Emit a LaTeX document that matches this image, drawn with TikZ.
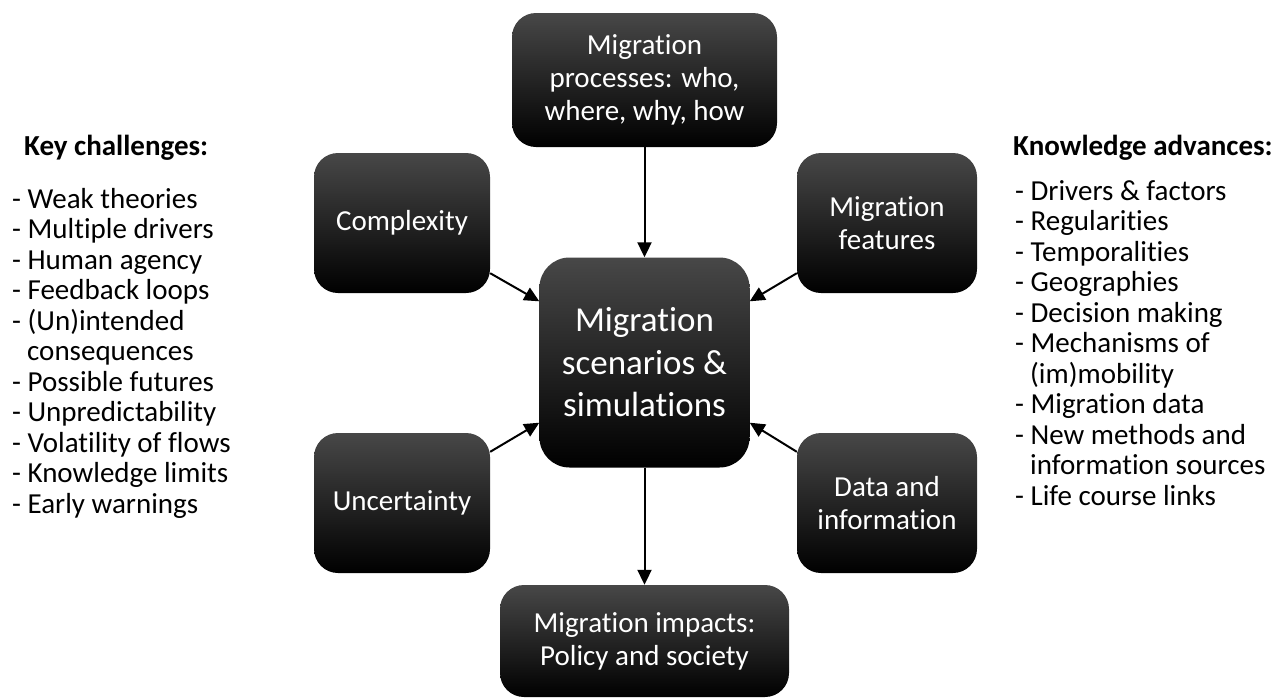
\documentclass[tikz,border=0pt]{standalone}
\usepackage{fontspec}
\setmainfont{Carlito}[RawFeature={-liga;-clig;-calt;-dlig}]
\usetikzlibrary{arrows.meta,calc}
\begin{document}
\begin{tikzpicture}[x=1pt,y=-1pt,
  box/.style={rectangle, rounded corners=24pt, top color=black!72, middle color=black, bottom color=black,
    draw=none, text=white, align=center, font=\fontsize{29}{33}\selectfont, inner sep=0pt},
  bigbox/.style={box, rounded corners=30pt, font=\fontsize{35}{42.5}\selectfont},
  listtext/.style={font=\fontsize{29}{30.5}\selectfont, anchor=base west, inner sep=0pt},
  headtext/.style={listtext, font=\fontsize{29}{30.5}\selectfont\bfseries},
  arr/.style={line width=2pt, -{Triangle[length=15pt,width=14pt]}}
]
\useasboundingbox (0,0) rectangle (1288,697);

% boxes
\node[box, minimum width=265pt, minimum height=134pt] (topb) at (644.5,80) {Migration\\processes: who,\\where, why, how};
\node[bigbox, minimum width=210pt, minimum height=210pt] (ctr) at (644.5,362.5) {Migration\\scenarios \&\\simulations};
\node[box, minimum width=176pt, minimum height=140pt] (cx) at (402,223) {Complexity};
\node[box, minimum width=180pt, minimum height=140pt] (feat) at (887,223) {Migration\\features};
\node[box, minimum width=176pt, minimum height=140pt] (unc) at (402,503) {Uncertainty};
\node[box, minimum width=180pt, minimum height=140pt] (data) at (887,503) {Data and\\information};
\node[box, minimum width=289pt, minimum height=112pt] (botb) at (644.5,641) {Migration impacts:\\Policy and society};

% arrows
\draw[arr] (topb.south) -- (ctr.north);
\draw[arr] (ctr.south) -- (botb.north);
\draw[arr] ($(cx.south east)+(0,-20)$) -- ($(ctr.north west)+(0,44)$);
\draw[arr] ($(unc.north east)+(0,19)$) -- ($(ctr.south west)+(0,-45)$);
\draw[arr] ($(feat.south west)+(0,-20)$) -- ($(ctr.north east)+(0,44)$);
\draw[arr] ($(data.north west)+(0,19)$) -- ($(ctr.south east)+(0,-45)$);

% left column
\node[headtext] (lh) at (24,155) {Key challenges:};
\foreach \t [count=\i] in {- Weak theories, - Multiple drivers, - Human agency, - Feedback loops,
  - (Un)intended, \hspace{15pt}consequences, - Possible futures, - Unpredictability,
  - Volatility of flows, - Knowledge limits, - Early warnings}
  \node[listtext] (l\i) at (12,{208+30.5*(\i-1)}) {\t};

% right column
\node[headtext] (rh) at (1013,155) {Knowledge advances:};
\foreach \t [count=\i] in {- Drivers \& factors, - Regularities, - Temporalities, - Geographies,
  - Decision making, - Mechanisms of, \hspace{15pt}(im)mobility, - Migration data,
  - New methods and, \hspace{15pt}information sources, - Life course links}
  \node[listtext] (r\i) at (1015,{200+30.5*(\i-1)}) {\t};
\end{tikzpicture}
\end{document}
